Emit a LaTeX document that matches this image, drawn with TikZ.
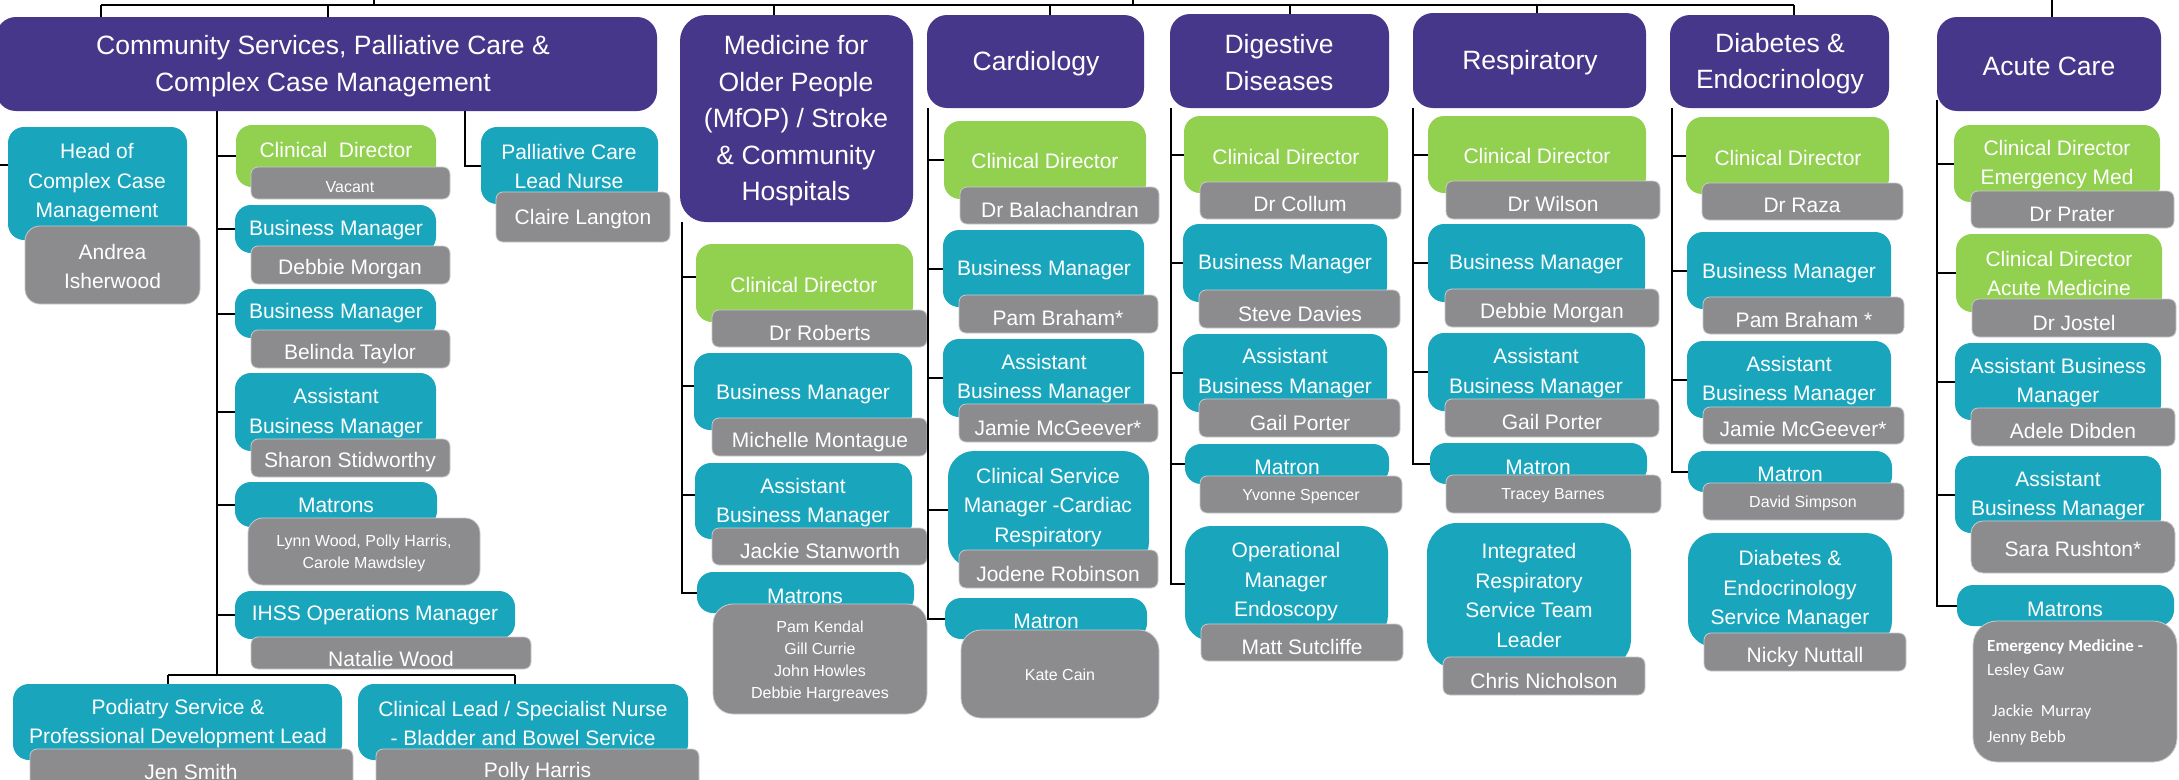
\documentclass[tikz,border=0pt]{standalone}
\usepackage{fontspec}
\setmainfont{Liberation Sans}
\newfontfamily\calfont{Carlito}
\definecolor{cpurple}{HTML}{47378A}
\definecolor{cteal}{HTML}{19A6BD}
\definecolor{cgreen}{HTML}{92D050}
\definecolor{cgray}{HTML}{8C8C8E}
\definecolor{crim}{HTML}{C9C9CB}
\newcommand{\bx}[6]{%
  \pgfmathsetmacro{\mybw}{#4-(#2)}\pgfmathsetmacro{\mybh}{#5-(#3)}%
  \node[#6, minimum width=\mybw pt, minimum height=\mybh pt, anchor=north west] (#1) at (#2,#3) {};}
\newcommand{\tx}[5]{\node[#2] (#1) at (#3,#4) {#5};}
\begin{document}
\begin{tikzpicture}[x=1pt,y=-1pt,
  base/.style={inner sep=0pt, outer sep=0pt, draw=none},
  pbox/.style={base, fill=cpurple, rounded corners=20pt},
  tbox/.style={base, fill=cteal, rounded corners=16pt},
  tboxr/.style={base, fill=cteal, rounded corners=26pt},
  gbox/.style={base, fill=cgreen, rounded corners=16pt},
  nbox/.style={base, fill=cgray, draw=crim, line width=0.8pt, rounded corners=7pt},
  nboxr/.style={base, fill=cgray, draw=crim, line width=0.8pt, rounded corners=20pt},
  conn/.style={draw=black, line width=2pt},
  ttl/.style={text=white, align=center, inner sep=0pt, yshift=-1pt, font=\fontsize{26.5}{36.5}\selectfont},
  lab/.style={text=white, align=center, inner sep=0pt, yshift=-1pt, font=\fontsize{21}{29.5}\selectfont},
  sml/.style={text=white, align=center, inner sep=0pt, yshift=-1pt, font=\fontsize{16}{22}\selectfont},
  cal/.style={text=white, anchor=west, inner sep=0pt, font=\calfont\fontsize{17}{20}\selectfont}]
\useasboundingbox (0,0) rectangle (2179,779);
\clip (0,0) rectangle (2179,779);
\fill[white] (0,0) rectangle (2179,779);

% ---------- boxes ----------
% Community
\bx{cs}{-4}{17}{657}{111}{pbox}
\bx{hoc}{8}{127}{187}{240}{tbox}
\bx{hocn}{25}{226}{200}{304}{nbox, rounded corners=15pt}
\bx{cd1}{236}{125}{436}{187}{gbox}
\bx{cd1n}{251}{167}{450}{199}{nbox}
\bx{bm1a}{235}{205}{436}{253}{tbox}
\bx{bm1an}{251}{246}{450}{284}{nbox}
\bx{bm1b}{235}{289}{436}{338}{tbox}
\bx{bm1bn}{251}{330}{450}{368}{nbox}
\bx{abm1}{235}{373}{436}{451}{tbox}
\bx{abm1n}{251}{439}{450}{477}{nbox}
\bx{mat1}{235}{482}{437}{527}{tbox}
\bx{mat1n}{248}{518}{480}{585}{nbox, rounded corners=15pt}
\bx{ihss}{235}{591}{515}{639}{tbox}
\bx{ihssn}{251}{637}{531}{669}{nbox}
\bx{pal}{481}{127}{658}{204}{tbox}
\bx{paln}{496}{192}{670}{242}{nbox}
\bx{pod}{13}{684}{342}{760}{tbox}
\bx{podn}{30}{749}{353}{800}{nbox}
\bx{cln}{358}{684}{688}{760}{tbox}
\bx{clnn}{376}{749}{699}{800}{nbox}
% Medicine
\bx{med}{680}{15}{913}{222}{pbox, rounded corners=26pt}
\bx{cd2}{696}{244}{913}{322}{gbox}
\bx{cd2n}{712}{310}{927}{347}{nbox}
\bx{bm2}{694}{353}{912}{430}{tbox}
\bx{bm2n}{712}{418}{927}{456}{nbox}
\bx{abm2}{695}{463}{912}{539}{tbox}
\bx{abm2n}{712}{528}{927}{565}{nbox}
\bx{mat2}{697}{572}{914}{613}{tbox}
\bx{mat2n}{713}{604}{927}{714}{nboxr}
% Cardiology
\bx{car}{927}{15}{1144}{108}{pbox}
\bx{cd3}{944}{121}{1146}{199}{gbox}
\bx{cd3n}{960}{187}{1159}{224}{nbox}
\bx{bm3}{943}{230}{1144}{307}{tbox}
\bx{bm3n}{959}{295}{1158}{333}{nbox}
\bx{abm3}{943}{339}{1144}{417}{tbox}
\bx{abm3n}{959}{404}{1158}{442}{nbox}
\bx{csm3}{948}{451}{1149}{568}{tboxr}
\bx{csm3n}{959}{550}{1158}{588}{nbox}
\bx{mat3}{945}{598}{1147}{639}{tbox}
\bx{mat3n}{961}{630}{1159}{718}{nboxr}
% Digestive
\bx{dig}{1170}{14}{1389}{108}{pbox}
\bx{cd4}{1184}{116}{1388}{193}{gbox}
\bx{cd4n}{1200}{182}{1401}{219}{nbox}
\bx{bm4}{1183}{224}{1387}{302}{tbox}
\bx{bm4n}{1199}{290}{1400}{328}{nbox}
\bx{abm4}{1183}{334}{1387}{412}{tbox}
\bx{abm4n}{1199}{399}{1400}{437}{nbox}
\bx{mat4}{1185}{444}{1389}{484}{tbox}
\bx{mat4n}{1200}{476}{1402}{513}{nbox}
\bx{opm4}{1185}{526}{1388}{641}{tboxr}
\bx{opm4n}{1201}{624}{1403}{661}{nbox}
% Respiratory
\bx{res}{1413}{13}{1646}{108}{pbox}
\bx{cd5}{1428}{116}{1646}{193}{gbox}
\bx{cd5n}{1446}{181}{1660}{219}{nbox}
\bx{bm5}{1428}{224}{1645}{302}{tbox}
\bx{bm5n}{1445}{289}{1659}{327}{nbox}
\bx{abm5}{1428}{333}{1645}{411}{tbox}
\bx{abm5n}{1445}{399}{1659}{437}{nbox}
\bx{mat5}{1430}{443}{1647}{484}{tbox}
\bx{mat5n}{1446}{475}{1661}{513}{nbox}
\bx{irs5}{1427}{523}{1631}{669}{tboxr, rounded corners=30pt}
\bx{irs5n}{1443}{657}{1645}{695}{nbox}
% Diabetes
\bx{dia}{1670}{15}{1889}{108}{pbox}
\bx{cd6}{1686}{117}{1889}{194}{gbox}
\bx{cd6n}{1702}{183}{1903}{220}{nbox}
\bx{bm6}{1687}{232}{1891}{309}{tbox}
\bx{bm6n}{1703}{297}{1904}{334}{nbox}
\bx{abm6}{1687}{341}{1891}{418}{tbox}
\bx{abm6n}{1703}{407}{1904}{444}{nbox}
\bx{mat6}{1688}{451}{1892}{492}{tbox}
\bx{mat6n}{1703}{483}{1904}{520}{nbox}
\bx{des6}{1688}{533}{1892}{647}{tboxr}
\bx{des6n}{1704}{633}{1906}{671}{nbox}
% Acute
\bx{acu}{1937}{17}{2161}{111}{pbox}
\bx{cd7a}{1954}{125}{2160}{202}{gbox}
\bx{cd7an}{1971}{191}{2174}{228}{nbox}
\bx{cd7b}{1956}{234}{2162}{312}{gbox}
\bx{cd7bn}{1972}{299}{2176}{337}{nbox}
\bx{abm7a}{1955}{343}{2161}{420}{tbox}
\bx{abm7an}{1971}{408}{2175}{446}{nbox}
\bx{abm7b}{1955}{456}{2161}{533}{tbox}
\bx{abm7bn}{1971}{521}{2175}{573}{nbox, rounded corners=12pt}
\bx{mat7}{1957}{585}{2174}{626}{tbox}
\bx{mat7n}{1973}{621}{2177}{762}{nboxr, rounded corners=24pt}

% ---------- connectors ----------
\coordinate (tL) at (101,5); \coordinate (tR) at (1794,5);
\coordinate (u1) at (374,0); \coordinate (u2) at (1133,0);
\coordinate (d2) at (328,5); \coordinate (d3) at (774,5);
\coordinate (d4) at (1050,5); \coordinate (d5) at (1290,5);
\coordinate (d6) at (1537,5); \coordinate (d7) at (2052,0);
\draw[conn] (tL) -- (tR);
\draw[conn] (u1) -- (u1 |- tL);
\draw[conn] (u2) -- (u2 |- tL);
\draw[conn] (tL) -- (tL |- cs.north);
\draw[conn] (d2) -- (d2 |- cs.north);
\draw[conn] (d3) -- (d3 |- med.north);
\draw[conn] (d4) -- (d4 |- car.north);
\draw[conn] (d5) -- (d5 |- dig.north);
\draw[conn] (d6) -- (d6 |- res.north);
\draw[conn] (tR) -- (tR |- dia.north);
\draw[conn] (d7) -- (d7 |- acu.north);
% community
\coordinate (s1) at (217,111); \coordinate (s1e) at (217,675);
\draw[conn] (s1) -- (s1e);
\foreach \b in {cd1,bm1a,bm1b,abm1,mat1,ihss} \draw[conn] (s1 |- \b.west) -- (\b.west);
\coordinate (s1l) at (168,675); \coordinate (s1r) at (515,675);
\draw[conn] (s1l) -- (s1r);
\draw[conn] (s1l) -- (s1l |- pod.north);
\draw[conn] (s1r) -- (s1r |- cln.north);
\coordinate (sp) at (465,111);
\draw[conn] (sp) |- (pal.west);
\coordinate (hin) at (0,165);
\draw[conn] (hin) -- (hin -| hoc.west);
% medicine
\coordinate (s2) at (682,222);
\draw[conn] (s2) |- (mat2.west);
\foreach \b in {cd2,bm2,abm2} \draw[conn] ([yshift=6pt]s2 |- \b.west) -- ([yshift=6pt]\b.west);
% cardiology
\coordinate (s3) at (928,108);
\draw[conn] (s3) |- (mat3.west);
\foreach \b in {cd3,bm3,abm3,csm3} \draw[conn] (s3 |- \b.west) -- (\b.west);
% digestive
\coordinate (s4) at (1171,108);
\draw[conn] (s4) |- (opm4.west);
\foreach \b in {cd4,bm4,abm4,mat4} \draw[conn] (s4 |- \b.west) -- (\b.west);
% respiratory
\coordinate (s5) at (1413,108);
\draw[conn] (s5) |- (mat5.west);
\foreach \b in {cd5,bm5,abm5} \draw[conn] (s5 |- \b.west) -- (\b.west);
% diabetes
\coordinate (s6) at (1672,108);
\draw[conn] (s6) |- (mat6.west);
\foreach \b in {cd6,bm6,abm6} \draw[conn] (s6 |- \b.west) -- (\b.west);
% acute
\coordinate (s7) at (1937,100);
\draw[conn] (s7) |- (mat7.west);
\foreach \b in {cd7a,cd7b,abm7a,abm7b} \draw[conn] (s7 |- \b.west) -- (\b.west);

% ---------- texts ----------
\tx{cst}{ttl}{323}{65}{Community Services, Palliative Care \&\\Complex Case Management}
\tx{hoct}{lab}{97}{182}{Head of\\Complex Case\\Management}
\tx{hocnt}{lab}{112.5}{265.5}{Andrea\\Isherwood}
\tx{cd1t}{lab}{336}{149}{Clinical\ \ Director}
\tx{cd1nt}{sml}{350}{186}{Vacant}
\tx{bm1at}{lab}{336}{229}{Business Manager}
\tx{bm1ant}{lab}{350}{268}{Debbie Morgan}
\tx{bm1bt}{lab}{336}{312}{Business Manager}
\tx{bm1bnt}{lab}{350}{353}{Belinda Taylor}
\tx{abm1t}{lab}{336}{412}{Assistant\\Business Manager}
\tx{abm1nt}{lab}{350}{461}{Sharon Stidworthy}
\tx{mat1t}{lab}{336}{504}{Matrons}
\tx{mat1nt}{sml}{364}{552.5}{Lynn Wood, Polly Harris,\\Carole Mawdsley}
\tx{ihsst}{lab}{375}{614}{IHSS Operations Manager}
\tx{ihssnt}{lab}{391}{658}{Natalie Wood}
\tx{palt}{lab}{569}{165.5}{Palliative Care\\Lead Nurse}
\tx{palnt}{lab}{583}{218}{Claire Langton}
\tx{podt}{lab}{178}{722.5}{Podiatry Service \&\\Professional Development Lead}
\tx{podnt}{lab}{191}{771}{Jen Smith}
\tx{clnt}{lab}{523}{722.5}{Clinical Lead / Specialist Nurse\\- Bladder and Bowel Service}
\tx{clnnt}{lab}{537.5}{771}{Polly Harris}
% medicine
\tx{medt}{ttl}{796}{120}{Medicine for\\Older People\\(MfOP) / Stroke\\\& Community\\Hospitals}
\tx{cd2t}{lab}{804}{284}{Clinical Director}
\tx{cd2nt}{lab}{820}{332}{Dr Roberts}
\tx{bm2t}{lab}{803}{393}{Business Manager}
\tx{bm2nt}{lab}{820}{441}{Michelle Montague}
\tx{abm2t}{lab}{803}{501.5}{Assistant\\Business Manager}
\tx{abm2nt}{lab}{820}{550}{Jackie Stanworth}
\tx{mat2t}{lab}{805}{595}{Matrons}
\tx{mat2nt}{sml}{820}{660}{Pam Kendal\\Gill Currie\\John Howles\\Debbie Hargreaves}
% cardiology
\tx{cart}{ttl}{1036}{63}{Cardiology}
\tx{cd3t}{lab}{1045}{160}{Clinical Director}
\tx{cd3nt}{lab}{1060}{209}{Dr Balachandran}
\tx{bm3t}{lab}{1044}{269}{Business Manager}
\tx{bm3nt}{lab}{1058}{317}{Pam Braham*}
\tx{abm3t}{lab}{1044}{377.5}{Assistant\\Business Manager}
\tx{abm3nt}{lab}{1058}{427}{Jamie McGeever*}
\tx{csm3t}{lab}{1048}{506.5}{Clinical Service\\Manager -Cardiac\\Respiratory}
\tx{csm3nt}{lab}{1058}{573}{Jodene Robinson}
\tx{mat3t}{lab}{1046}{620}{Matron}
\tx{mat3nt}{sml}{1060}{674}{Kate Cain}
% digestive
\tx{digt}{ttl}{1279}{61.5}{Digestive\\Diseases}
\tx{cd4t}{lab}{1286}{156}{Clinical Director}
\tx{cd4nt}{lab}{1300}{203}{Dr Collum}
\tx{bm4t}{lab}{1285}{263}{Business Manager}
\tx{bm4nt}{lab}{1300}{313}{Steve Davies}
\tx{abm4t}{lab}{1285}{372}{Assistant\\Business Manager}
\tx{abm4nt}{lab}{1300}{422}{Gail Porter}
\tx{mat4t}{lab}{1287}{466}{Matron}
\tx{mat4nt}{sml}{1301}{496}{Yvonne Spencer}
\tx{opm4t}{lab}{1286}{581}{Operational\\Manager\\Endoscopy}
\tx{opm4nt}{lab}{1302}{646}{Matt Sutcliffe}
% respiratory
\tx{rest}{ttl}{1530}{62}{Respiratory}
\tx{cd5t}{lab}{1537}{155}{Clinical Director}
\tx{cd5nt}{lab}{1553}{203}{Dr Wilson}
\tx{bm5t}{lab}{1536}{263}{Business Manager}
\tx{bm5nt}{lab}{1552}{312}{Debbie Morgan}
\tx{abm5t}{lab}{1536}{372}{Assistant\\Business Manager}
\tx{abm5nt}{lab}{1552}{421}{Gail Porter}
\tx{mat5t}{lab}{1538}{466}{Matron}
\tx{mat5nt}{sml}{1553}{495}{Tracey Barnes}
\tx{irs5t}{lab}{1529}{594.5}{Integrated\\Respiratory\\Service Team\\Leader}
\tx{irs5nt}{lab}{1544}{680}{Chris Nicholson}
% diabetes
\tx{diat}{ttl}{1780}{62.5}{Diabetes \&\\Endocrinology}
\tx{cd6t}{lab}{1788}{157}{Clinical Director}
\tx{cd6nt}{lab}{1802}{204}{Dr Raza}
\tx{bm6t}{lab}{1789}{272}{Business Manager}
\tx{bm6nt}{lab}{1804}{319}{Pam Braham *}
\tx{abm6t}{lab}{1789}{379.5}{Assistant\\Business Manager}
\tx{abm6nt}{lab}{1803}{428}{Jamie McGeever*}
\tx{mat6t}{lab}{1790}{473}{Matron}
\tx{mat6nt}{sml}{1803}{502}{David Simpson}
\tx{des6t}{lab}{1790}{589}{Diabetes \&\\Endocrinology\\Service Manager}
\tx{des6nt}{lab}{1805}{656}{Nicky Nuttall}
% acute
\tx{acut}{ttl}{2049}{65}{Acute Care}
\tx{cd7at}{lab}{2057}{163.5}{Clinical Director\\Emergency Med}
\tx{cd7ant}{lab}{2072}{213}{Dr Prater}
\tx{cd7bt}{lab}{2059}{272.5}{Clinical Director\\Acute Medicine}
\tx{cd7bnt}{lab}{2074}{322}{Dr Jostel}
\tx{abm7at}{lab}{2058}{381.5}{Assistant Business\\Manager}
\tx{abm7ant}{lab}{2073}{430}{Adele Dibden}
\tx{abm7bt}{lab}{2058}{494.5}{Assistant\\Business Manager}
\tx{abm7bnt}{lab}{2073}{548}{Sara Rushton*}
\tx{mat7t}{lab}{2065}{608}{Matrons}
\tx{mat7n1}{cal}{1987}{647}{\textbf{Emergency Medicine -}}
\tx{mat7n2}{cal}{1987}{671}{Lesley Gaw}
\tx{mat7n3}{cal}{1992}{712}{Jackie\ \ Murray}
\tx{mat7n4}{cal}{1987}{738}{Jenny Bebb}
\end{tikzpicture}
\end{document}
